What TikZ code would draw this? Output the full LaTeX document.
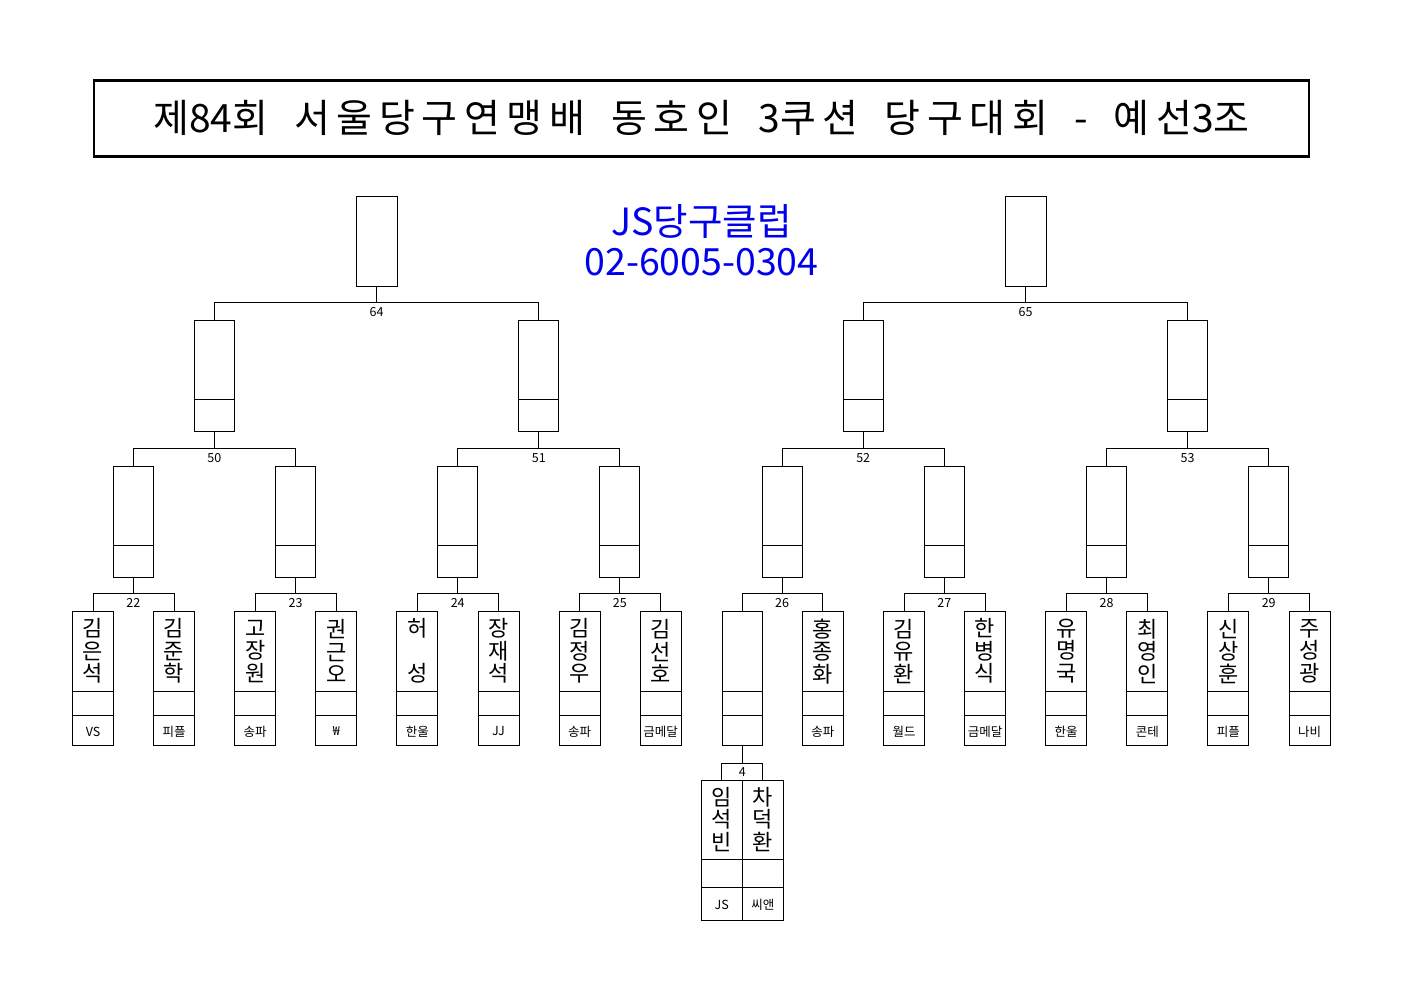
\documentclass[tikz,border=0pt]{standalone}
\usepackage{fontspec}
\setmainfont{Noto Sans CJK KR}
\newfontfamily\titlefont{Noto Sans CJK KR}[LetterSpace=17, WordSpace=1.7]
\newfontfamily\titledigits{Noto Sans CJK KR}
\definecolor{clubblue}{RGB}{0,0,235}

\begin{document}
\begin{tikzpicture}[x=1pt, y=-1pt, line width=1pt,
  box/.style={draw, minimum width=40pt, inner sep=0pt},
  pbox/.style={box, minimum width=41pt, minimum height=134.3pt},
  pname/.style={font=\fontsize{22}{22.5}\selectfont, align=center, inner sep=0pt},
  small/.style={font=\fontsize{12.5}{13}\selectfont, inner sep=0pt}]
  \useasboundingbox (0,0) rectangle (1403,992);

  % title and club
  \node[draw, line width=2.6pt, minimum width=1215pt, minimum height=76pt,
    font=\fontsize{39}{42}\selectfont] (title) at (701.5,118.3)
    {{\titlefont 제}{\titledigits 84}{\titlefont 회 서울당구연맹배 동호인 }{\titledigits 3}{\titlefont 쿠션 당구대회 - 예선}{\titledigits 3}{\titlefont 조}};
  \node[text=clubblue, align=center, font=\fontsize{37.5}{40}\selectfont] (club) at (701.5,240)
    {JS당구클럽\\02-6005-0304};

  % boxes
  \foreach \m in {0,1}
    \node[box, minimum width=41pt, minimum height=90.3pt] (t\m) at (376.6+649*\m,241.2) {};
  \foreach \k in {0,...,3} {
    \node[box, minimum height=110.7pt] (s\k) at (214.4+324.4*\k,375.7) {};
    \draw ([yshift=-80pt]s\k.north west) -- ([yshift=-80pt]s\k.north east);
  }
  \foreach \j in {0,...,7} {
    \node[box, minimum height=111.3pt] (q\j) at (133.3+162.2*\j,521.7) {};
    \draw ([yshift=-80pt]q\j.north west) -- ([yshift=-80pt]q\j.north east);
  }
  \foreach \i/\nm/\cl in {0/{김\\은\\석}/VS, 1/{김\\준\\학}/피플, 2/{고\\장\\원}/송파,
      3/{권\\근\\오}/₩, 4/{허\\~\\성}/한울, 5/{장\\재\\석}/JJ, 6/{김\\정\\우}/송파,
      7/{김\\선\\호}/금메달, 9/{홍\\종\\화}/송파, 10/{김\\유\\환}/월드,
      11/{한\\병\\식}/금메달, 12/{유\\명\\국}/한울, 13/{최\\영\\인}/콘테,
      14/{신\\상\\훈}/피플, 15/{주\\성\\광}/나비} {
    \node[pbox] (p\i) at (93+81.1*\i,678.8) {};
    \node[pname] (nm\i) at ([yshift=-40pt]p\i.north) {\nm};
    \node[small] (cl\i) at ([yshift=15pt]p\i.south) {\cl};
    \draw ([yshift=-80pt]p\i.north west) -- ([yshift=-80pt]p\i.north east)
      ([yshift=-104pt]p\i.north west) -- ([yshift=-104pt]p\i.north east);
  }
  \node[pbox, minimum width=40pt] (p8) at (742.3,678.8) {};
  \draw ([yshift=-80pt]p8.north west) -- ([yshift=-80pt]p8.north east)
    ([yshift=-104pt]p8.north west) -- ([yshift=-104pt]p8.north east);
  \foreach \i/\nm/\cl in {0/{임\\석\\빈}/JS, 1/{차\\덕\\환}/씨앤} {
    \node[pbox, minimum height=140pt] (r\i) at (721.8+41*\i,850) {};
    \node[pname] (rn\i) at ([yshift=-40pt]r\i.north) {\nm};
    \node[small] (rc\i) at ([yshift=16pt]r\i.south) {\cl};
    \draw ([yshift=-80pt]r\i.north west) -- ([yshift=-80pt]r\i.north east)
      ([yshift=-108.3pt]r\i.north west) -- ([yshift=-108.3pt]r\i.north east);
  }

  % brackets
  \foreach \j/\n [evaluate=\j as \a using int(2*\j), evaluate=\j as \b using int(2*\j+1)]
      in {0/22,1/23,2/24,3/25,4/26,5/27,6/28,7/29} {
    \coordinate (j\n) at ([yshift=-16pt]q\j.south);
    \draw (q\j.south) -- (j\n);
    \draw (p\a.north) |- (j\n) -| (p\b.north);
    \node[small] (n\n) at ([yshift=-9pt]j\n) {\n};
  }
  \foreach \k/\n [evaluate=\k as \a using int(2*\k), evaluate=\k as \b using int(2*\k+1)]
      in {0/50,1/51,2/52,3/53} {
    \coordinate (j\n) at ([yshift=-17.3pt]s\k.south);
    \draw (s\k.south) -- (j\n);
    \draw (q\a.north) |- (j\n) -| (q\b.north);
    \node[small] (n\n) at ([yshift=-9pt]j\n) {\n};
  }
  \foreach \m/\n [evaluate=\m as \a using int(2*\m), evaluate=\m as \b using int(2*\m+1)]
      in {0/64,1/65} {
    \coordinate (j\n) at ([yshift=-16pt]t\m.south);
    \draw (t\m.south) -- (j\n);
    \draw (s\a.north) |- (j\n) -| (s\b.north);
    \node[small] (n\n) at ([yshift=-9pt]j\n) {\n};
  }
  \coordinate (j4) at ([yshift=-16.7pt]p8.south);
  \draw (p8.south) -- (j4);
  \draw (r0.north) |- (j4) -| (r1.north);
  \node[small] (n4) at ([yshift=-8.5pt]j4) {4};
\end{tikzpicture}
\end{document}
